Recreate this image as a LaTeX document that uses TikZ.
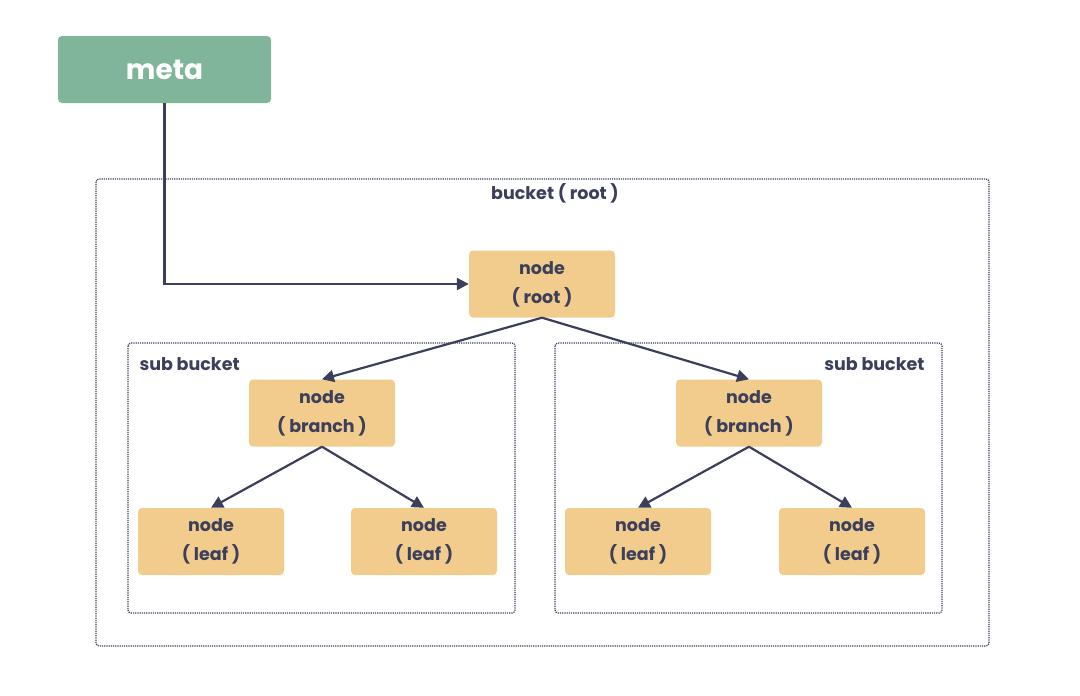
\documentclass[tikz,border=0pt]{standalone}
\usepackage{fontspec}
\setmainfont{Poppins}
\usepackage{xcolor}
\usepackage{tikz}
\usetikzlibrary{arrows.meta,positioning,calc}
\definecolor{ink}{HTML}{3B3F5C}
\definecolor{metagreen}{HTML}{80B59A}
\definecolor{nodeyellow}{HTML}{F2CC8C}

\begin{document}
\begin{tikzpicture}[
  x=1pt,y=-1pt,
  every node/.style={font=\fontsize{17.5}{29}\selectfont\bfseries,text=ink},
  tnode/.style={fill=nodeyellow,rounded corners=4pt,align=center,minimum width=146pt,minimum height=67pt},
  metabox/.style={fill=metagreen,rounded corners=4pt,minimum width=213pt,minimum height=67pt,text=white,font=\fontsize{28}{30}\selectfont\bfseries},
  bucket/.style={draw=ink,densely dotted,line width=1.2pt,rounded corners=3pt},
  arrow/.style={-{Triangle[length=12pt,width=12pt]},draw=ink,line width=2.2pt}
]
\useasboundingbox (0,0) rectangle (1080,696);
% buckets
\draw[bucket] (96,179) rectangle (989,646);
\node (rootlabel) at (555,193) {bucket ( root )};
\draw[bucket] (128,343) rectangle (515,613);
\node[anchor=west] (sublabell) at (136,364) {sub bucket};
\draw[bucket] (555,343) rectangle (942,613);
\node[anchor=east] (sublabelr) at (928,364) {sub bucket};
% nodes
\node[metabox] (meta) at (164.5,69.5) {meta};
\node[tnode] (root) at (542,284) {node\\( root )};
\node[tnode] (branchl) at (322,413) {node\\( branch )};
\node[tnode] (branchr) at (749,413) {node\\( branch )};
\node[tnode] (leafa) at (211,541.5) {node\\( leaf )};
\node[tnode] (leafb) at (424,541.5) {node\\( leaf )};
\node[tnode] (leafc) at (638,541.5) {node\\( leaf )};
\node[tnode] (leafd) at (852,541.5) {node\\( leaf )};
% links
\draw[arrow] (meta.south) |- (root.west);
\draw[arrow] (root.south) -- (branchl.north);
\draw[arrow] (root.south) -- (branchr.north);
\draw[arrow] (branchl.south) -- (leafa.north);
\draw[arrow] (branchl.south) -- (leafb.north);
\draw[arrow] (branchr.south) -- (leafc.north);
\draw[arrow] (branchr.south) -- (leafd.north);
\end{tikzpicture}
\end{document}
